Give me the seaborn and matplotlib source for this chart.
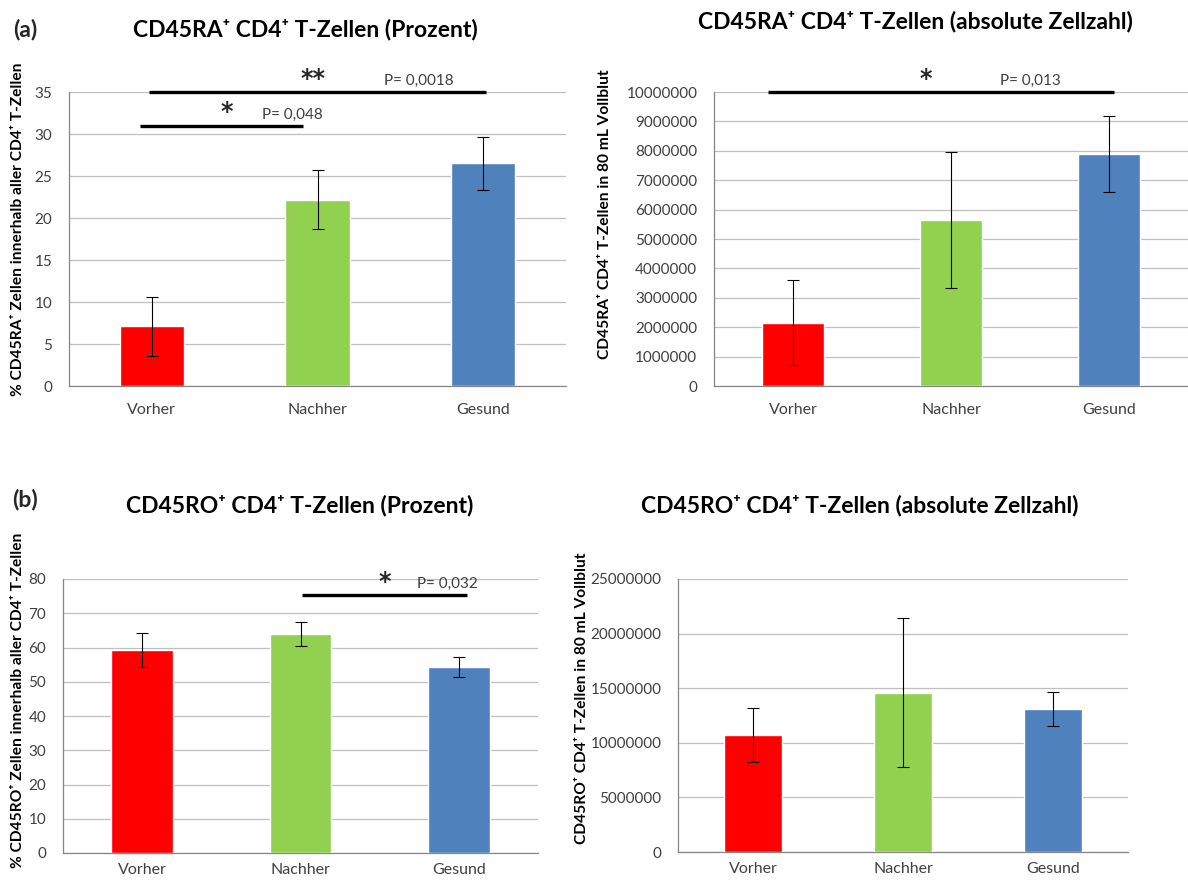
import matplotlib
matplotlib.use("Agg")
import matplotlib.pyplot as plt
import seaborn as sns
import pandas as pd
import numpy as np

sns.set_style("white")
plt.rcParams["font.family"] = ["Lato", "DejaVu Sans"]

groups = ["Vorher", "Nachher", "Gesund"]
bar_colors = ["#FF0000", "#92D050", "#4F81BD"]

ra_pct_mean = [7.1, 22.2, 26.5]
ra_pct_err = [3.5, 3.5, 3.2]
ra_abs_mean = [2150000, 5650000, 7900000]
ra_abs_err = [1450000, 2300000, 1300000]
ro_pct_mean = [59.2, 63.8, 54.3]
ro_pct_err = [5.0, 3.5, 3.0]
ro_abs_mean = [10700000, 14600000, 13100000]
ro_abs_err = [2450000, 6850000, 1550000]

titles = [
    "CD45RA\u207a CD4\u207a T-Zellen (Prozent)",
    "CD45RA\u207a CD4\u207a T-Zellen (absolute Zellzahl)",
    "CD45RO\u207a CD4\u207a T-Zellen (Prozent)",
    "CD45RO\u207a CD4\u207a T-Zellen (absolute Zellzahl)",
]
ylabels = [
    "% CD45RA\u207a Zellen innerhalb aller CD4\u207a T-Zellen",
    "CD45RA\u207a CD4\u207a T-Zellen in 80 mL Vollblut",
    "% CD45RO\u207a Zellen innerhalb aller CD4\u207a T-Zellen",
    "CD45RO\u207a CD4\u207a T-Zellen in 80 mL Vollblut",
]
y_limits = [(0, 35), (0, 10000000), (0, 80), (0, 25000000)]
y_steps = [5, 1000000, 10, 5000000]

# significance brackets: (x start, x end, y level, stars, p-text, star x, p x)
sig_ra_pct = [
    (-0.02, 2.02, 35, "**", "P= 0,0018", 0.97, 1.61),
    (-0.07, 0.91, 31, "*", "P= 0,048", 0.45, 0.85),
]
sig_ra_abs = [(-0.16, 2.03, 10000000, "*", "P= 0,013", 0.84, 1.50)]
sig_ro_pct = [(1.01, 2.05, 75.3, "*", "P= 0,032", 1.53, 1.93)]
sig_ro_abs = []

W, H = 1188, 881
fig = plt.figure(figsize=(W / 100, H / 100), dpi=100)


def px_axes(left, top, right, bottom):
    return fig.add_axes([left / W, 1 - bottom / H, (right - left) / W, (bottom - top) / H])


axes_boxes = [
    (69, 92, 566, 386),
    (714, 92, 1188, 386),
    (63, 579, 538, 853),
    (678, 579, 1128, 852),
]
means = [ra_pct_mean, ra_abs_mean, ro_pct_mean, ro_abs_mean]
errs = [ra_pct_err, ra_abs_err, ro_pct_err, ro_abs_err]
sigs = [sig_ra_pct, sig_ra_abs, sig_ro_pct, sig_ro_abs]
title_pos = [(305, 30), (915, 22), (300, 505), (860, 505)]
ylabel_pos = [(18, 229), (605, 214), (18, 700), (582, 698)]
xtick_pad = [12, 12, 7, 7]

text_col = "#404040"
grid_col = "#BFBFBF"
axis_col = "#868686"

for i in range(4):
    ax = px_axes(*axes_boxes[i])
    df = pd.DataFrame({"Gruppe": groups, "Wert": means[i]})
    sns.barplot(data=df, x="Gruppe", y="Wert", hue="Gruppe", palette=bar_colors,
                order=groups, hue_order=groups, width=0.39, legend=False,
                ax=ax, errorbar=None, saturation=1, zorder=3)
    ax.errorbar(np.arange(len(groups)), means[i], yerr=errs[i], fmt="none",
                ecolor="black", elinewidth=0.8, capsize=4, capthick=0.8, zorder=4)
    lo, hi = y_limits[i]
    ax.set_ylim(lo, hi)
    ax.set_xlim(-0.5, 2.5)
    ax.set_yticks(np.arange(lo, hi + y_steps[i] / 2, y_steps[i]))
    ax.yaxis.set_major_formatter(matplotlib.ticker.FuncFormatter(lambda v, p: f"{int(round(v))}"))
    ax.grid(axis="y", color=grid_col, linewidth=0.9, zorder=0)
    ax.set_axisbelow(True)
    for s in ["top", "right"]:
        ax.spines[s].set_visible(False)
    for s in ["left", "bottom"]:
        ax.spines[s].set_color(axis_col)
        ax.spines[s].set_linewidth(0.9)
    ax.tick_params(axis="y", length=0, pad=12, labelsize=11, labelcolor=text_col)
    ax.tick_params(axis="x", length=0, pad=xtick_pad[i], labelsize=11.5, labelcolor=text_col)
    ax.set_xlabel("")
    ax.set_ylabel("")

    for (x0, x1, yv, stars, ptxt, sx, pxx) in sigs[i]:
        ax.plot([x0, x1], [yv, yv], color="black", linewidth=2.4, clip_on=False,
                solid_capstyle="butt", zorder=5)
        ax.annotate(stars, (sx, yv), xytext=(0, 1), textcoords="offset points",
                    ha="center", va="bottom", fontsize=17, fontweight="bold",
                    family=["DejaVu Sans"], annotation_clip=False)
        ax.annotate(ptxt, (pxx, yv), xytext=(0, 3), textcoords="offset points",
                    ha="center", va="bottom", fontsize=11, color=text_col,
                    annotation_clip=False)

    tx, ty = title_pos[i]
    fig.text(tx / W, 1 - ty / H, titles[i], ha="center", va="center",
             fontsize=16.5, fontweight="bold", color="black")
    lx, ly = ylabel_pos[i]
    fig.text(lx / W, 1 - ly / H, ylabels[i], ha="center", va="center",
             rotation=90, fontsize=11.2, fontweight="bold", color="black")

fig.text(25 / W, 1 - 30 / H, "(a)", ha="center", va="center", fontsize=16.5,
         fontweight="bold")
fig.text(25 / W, 1 - 500 / H, "(b)", ha="center", va="center", fontsize=16.5,
         fontweight="bold")

fig.savefig("out.png", dpi=100, facecolor="white")
